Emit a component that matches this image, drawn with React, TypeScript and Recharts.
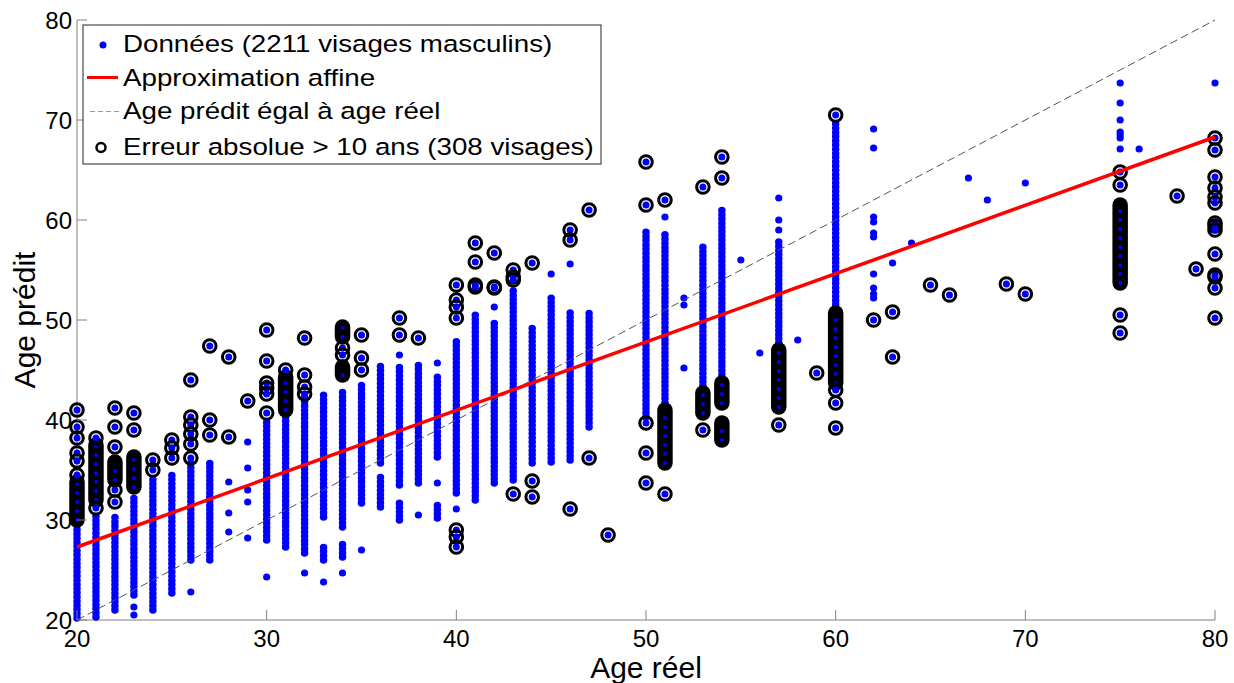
import { ScatterChart, Scatter, XAxis, YAxis, Label } from 'recharts'

const FONT = '"Liberation Sans", Arial, sans-serif'
const FRAME = '#808080'
const BLUE = '#0000ff'

const xTicks = [20, 30, 40, 50, 60, 70, 80]
const yTicks = [20, 30, 40, 50, 60, 70, 80]

// dense stacks of predictions: [real age, lowest predicted, highest predicted]
const blueRuns: [number, number, number][] = [
  [20, 20.2, 30], [21, 20.3, 30.7], [22, 21, 30.3], [23, 22.5, 32.3],
  [24, 21, 34.3], [25, 22.7, 34.5], [26, 26, 35.7], [27, 26, 35.8],
  [30, 28, 40], [31, 27.3, 40.7], [32, 26.7, 42.3], [33, 30.3, 42.7],
  [33, 26, 27.3], [34, 29.3, 42.8], [34, 26.3, 27.7], [35, 31.7, 43.7],
  [36, 35.7, 45.7], [36, 31.3, 34.5], [37, 33.5, 45.3], [37, 30, 32],
  [38, 33.7, 45.5], [39, 36.3, 44.3], [39, 30.2, 31.8], [40, 32.7, 48],
  [41, 32, 50.5], [42, 33.7, 49.8], [43, 34, 53.3], [44, 35.7, 49.3],
  [45, 35.8, 52.5], [46, 36, 50.8], [47, 39.3, 51], [50, 40.3, 58.8],
  [51, 41.3, 58.8], [53, 43, 57.3], [54, 43.3, 61.3], [57, 47.3, 57.8],
  [60, 50.7, 69.7],
]

// isolated predictions: [real age, predicted age]
const blueDots: [number, number][] = [
  [23, 21.3], [23, 20.5], [26, 22.8], [28, 33.8], [28, 30.7], [28, 28.8],
  [29, 37.8], [29, 35.2], [29, 33], [29, 31.8], [29, 28.2], [30, 24.3],
  [32, 24.7], [33, 23.8], [34, 24.7], [35, 27], [37, 46.5], [38, 30.5],
  [39, 45.7], [39, 33.7], [40, 31.1], [42, 51.3], [45, 54.6], [46, 55.6],
  [51, 60.3], [52, 52.2], [52, 51.5], [52, 45.2], [55, 56], [56, 46.7],
  [57, 62.2], [57, 60], [57, 59], [58, 48], [62, 69.1], [62, 67.2],
  [62, 60.3], [62, 59.8], [62, 58.7], [62, 58.3], [62, 54.6], [62, 53.2],
  [62, 52.6], [62, 52.2], [63, 55.7], [64, 57.7], [67, 64.2], [68, 62],
  [70, 63.7], [75, 73.7], [75, 71.7], [75, 70], [75, 68.8], [75, 68.5],
  [75, 68.2], [75, 67.1], [76, 67.1], [80, 73.7],
]

// dense stacks with absolute error > 10 years: [real age, lowest, highest]
const errorRuns: [number, number, number][] = [
  [20, 30, 33.8], [21, 32, 37.5], [22, 34, 35.8], [23, 33.3, 36.3],
  [31, 41, 44.3], [34, 48.3, 49.3], [34, 44.5, 45.3], [51, 35.7, 41],
  [53, 40.7, 42.7], [54, 41.7, 43.7], [54, 38, 39.7], [57, 41.3, 47],
  [60, 43.7, 50.7], [75, 53.7, 61.5],
]

// isolated predictions with absolute error > 10 years
const errorDots: [number, number][] = [
  [20, 41], [20, 39.3], [20, 38.2], [20, 36.7], [20, 35.9], [20, 34.5],
  [21, 38.2], [21, 31.2], [22, 41.2], [22, 39.3], [22, 37.3], [22, 33],
  [22, 31.8], [23, 40.7], [23, 39], [24, 36], [24, 35], [25, 38],
  [25, 37.2], [25, 36.2], [26, 44], [26, 40.3], [26, 39.5], [26, 38.6],
  [26, 37.6], [26, 36.2], [27, 47.4], [27, 40], [27, 38.5], [28, 46.3],
  [28, 38.3], [29, 41.9], [30, 49], [30, 45.9], [30, 43.7], [30, 43.2],
  [30, 42.6], [30, 40.7], [31, 45], [32, 48.2], [32, 44.5], [32, 43.3],
  [32, 42.6], [34, 47.2], [34, 46.5], [35, 48.5], [35, 46.2], [35, 45],
  [37, 50.2], [37, 48.5], [38, 48.2], [40, 53.5], [40, 52], [40, 51.3],
  [40, 50.2], [40, 29], [40, 28.3], [40, 27.3], [41, 57.7], [41, 55.8],
  [41, 53.5], [41, 53.3], [42, 56.7], [42, 53.3], [42, 53.2], [43, 55],
  [43, 54.3], [43, 54], [43, 32.6], [44, 55.7], [44, 33.9], [44, 32.3],
  [46, 59], [46, 58], [46, 31.1], [47, 61], [47, 36.2], [48, 28.5],
  [50, 65.8], [50, 61.5], [50, 39.7], [50, 36.7], [50, 33.7], [51, 62],
  [51, 32.6], [53, 63.3], [53, 39], [54, 66.3], [54, 64.2], [57, 39.5],
  [59, 44.7], [60, 70.5], [60, 43], [60, 41.7], [60, 39.2], [62, 50],
  [63, 50.8], [63, 46.3], [65, 53.5], [66, 52.5], [69, 53.6], [70, 52.6],
  [75, 64.8], [75, 63.5], [75, 50.5], [75, 48.7], [78, 62.4], [79, 55.1],
  [80, 68.2], [80, 67], [80, 64.3], [80, 63.2], [80, 62.3], [80, 61.7],
  [80, 59.7], [80, 59.4], [80, 59], [80, 56.6], [80, 54.5], [80, 54.3],
  [80, 53.2], [80, 50.2],
]

const fitLine = [{ x: 20, y: 27.3 }, { x: 80, y: 68.3 }]
const identityLine = [{ x: 20, y: 20 }, { x: 80, y: 80 }]

const legendLabels = [
  'Données (2211 visages masculins)',
  'Approximation affine',
  'Age prédit égal à age réel',
  'Erreur absolue > 10 ans (308 visages)',
]

const toPoints = (list: [number, number][]) => list.map(([x, y]) => ({ x, y }))
const runPoints = ([x, lo, hi]: [number, number, number]) => [{ x, y: lo }, { x, y: hi }]

const NoMark = () => <g />

const BlueDot = (p: any) => <circle cx={p.cx} cy={p.cy} r={3.6} fill={BLUE} />

const Ring = (p: any) => (
  <g>
    <circle cx={p.cx} cy={p.cy} r={6.3} fill="none" stroke="#000" strokeWidth={3} />
    <circle cx={p.cx} cy={p.cy} r={3.5} fill={BLUE} />
  </g>
)

const BottomTick = (p: any) => (
  <g>
    <line x1={p.x} y1={p.y} x2={p.x} y2={p.y - 10} stroke={FRAME} />
    <text x={p.x} y={p.y + 27} textAnchor="middle" fontSize={24} fontFamily={FONT} fill="#000">
      {p.payload.value}
    </text>
  </g>
)

const LeftTick = (p: any) => (
  <g>
    <line x1={p.x} y1={p.y} x2={p.x + 10} y2={p.y} stroke={FRAME} />
    <text x={p.x - 5} y={p.y + 8.5} textAnchor="end" fontSize={24} fontFamily={FONT} fill="#000">
      {p.payload.value}
    </text>
  </g>
)

const TopTick = (p: any) => <line x1={p.x} y1={p.y} x2={p.x} y2={p.y + 10} stroke={FRAME} />
const RightTick = (p: any) => <line x1={p.x} y1={p.y} x2={p.x - 10} y2={p.y} stroke={FRAME} />

function ChartLegend() {
  const rowBase = [28.3, 61.7, 95, 131]
  return (
    <svg
      width={520}
      height={141}
      style={{ position: 'absolute', left: 82, top: 24 }}
    >
      <rect x={1} y={1} width={518} height={139} fill="#fff" stroke="#262626" strokeWidth={1} />
      <circle cx={21} cy={21} r={3.5} fill={BLUE} />
      <line x1={5} y1={53.5} x2={36} y2={53.5} stroke="#ff0000" strokeWidth={3} />
      <line x1={8} y1={87.5} x2={37} y2={87.5} stroke="#999999" strokeWidth={1.2} strokeDasharray="5 3" />
      <circle cx={19} cy={123.5} r={4.5} fill="none" stroke="#000" strokeWidth={2.5} />
      {legendLabels.map((t, i) => (
        <text
          key={t}
          transform={`translate(41, ${rowBase[i]}) scale(1.18, 1)`}
          fontSize={23.5}
          fontFamily={FONT}
          fill="#000"
        >
          {t}
        </text>
      ))}
    </svg>
  )
}

export default function App() {
  return (
    <div style={{ position: 'absolute', left: 0, top: 0, width: 1234, height: 683, background: '#fff' }}>
      <ScatterChart width={1234} height={683} margin={{ top: 20, right: 19, left: 0, bottom: 0 }}>
        <XAxis
          dataKey="x"
          type="number"
          domain={[20, 80]}
          ticks={xTicks}
          interval={0}
          height={63}
          tickSize={0}
          tickMargin={0}
          tickLine={false}
          axisLine={{ stroke: FRAME }}
          tick={<BottomTick />}
        >
          <Label
            content={(p: any) => (
              <text
                x={p.viewBox.x + p.viewBox.width / 2}
                y={p.viewBox.y + 58}
                textAnchor="middle"
                fontSize={30}
                fontFamily={FONT}
                fill="#000"
              >
                Age réel
              </text>
            )}
          />
        </XAxis>
        <XAxis
          xAxisId="top"
          orientation="top"
          type="number"
          domain={[20, 80]}
          ticks={xTicks}
          interval={0}
          height={0}
          tickSize={0}
          tickMargin={0}
          tickLine={false}
          axisLine={{ stroke: FRAME }}
          tick={<TopTick />}
        />
        <YAxis
          dataKey="y"
          type="number"
          domain={[20, 80]}
          ticks={yTicks}
          interval={0}
          width={77}
          tickSize={0}
          tickMargin={0}
          tickLine={false}
          axisLine={{ stroke: FRAME }}
          tick={<LeftTick />}
        >
          <Label
            content={(p: any) => {
              const cy = p.viewBox.y + p.viewBox.height / 2
              return (
                <text
                  x={35}
                  y={cy}
                  transform={`rotate(-90, 35, ${cy})`}
                  textAnchor="middle"
                  fontSize={30}
                  fontFamily={FONT}
                  fill="#000"
                >
                  Age prédit
                </text>
              )
            }}
          />
        </YAxis>
        <YAxis
          yAxisId="right"
          orientation="right"
          type="number"
          domain={[20, 80]}
          ticks={yTicks}
          interval={0}
          width={0}
          tickSize={0}
          tickMargin={0}
          tickLine={false}
          axisLine={{ stroke: FRAME }}
          tick={<RightTick />}
        />

        {blueRuns.map((r, i) => (
          <Scatter
            key={`b${i}`}
            data={runPoints(r)}
            shape={NoMark}
            line={{ stroke: BLUE, strokeWidth: 7.5, strokeLinecap: 'round', strokeDasharray: '0 4.2' }}
            isAnimationActive={false}
          />
        ))}
        <Scatter data={toPoints(blueDots)} shape={BlueDot} isAnimationActive={false} />

        {errorRuns.map((r, i) => (
          <Scatter
            key={`e${i}`}
            data={runPoints(r)}
            shape={NoMark}
            line={{ stroke: '#000', strokeWidth: 15.5, strokeLinecap: 'round' }}
            isAnimationActive={false}
          />
        ))}
        {errorRuns.map((r, i) => (
          <Scatter
            key={`eb${i}`}
            data={runPoints(r)}
            shape={NoMark}
            line={{ stroke: BLUE, strokeWidth: 4, strokeLinecap: 'round', strokeDasharray: '0 9' }}
            isAnimationActive={false}
          />
        ))}
        <Scatter data={toPoints(errorDots)} shape={Ring} isAnimationActive={false} />

        <Scatter
          data={identityLine}
          shape={NoMark}
          line={{ stroke: '#555555', strokeWidth: 1, strokeDasharray: '8 4' }}
          isAnimationActive={false}
        />
        <Scatter
          data={fitLine}
          shape={NoMark}
          line={{ stroke: '#ff0000', strokeWidth: 3.5 }}
          isAnimationActive={false}
        />
      </ScatterChart>
      <ChartLegend />
    </div>
  )
}
